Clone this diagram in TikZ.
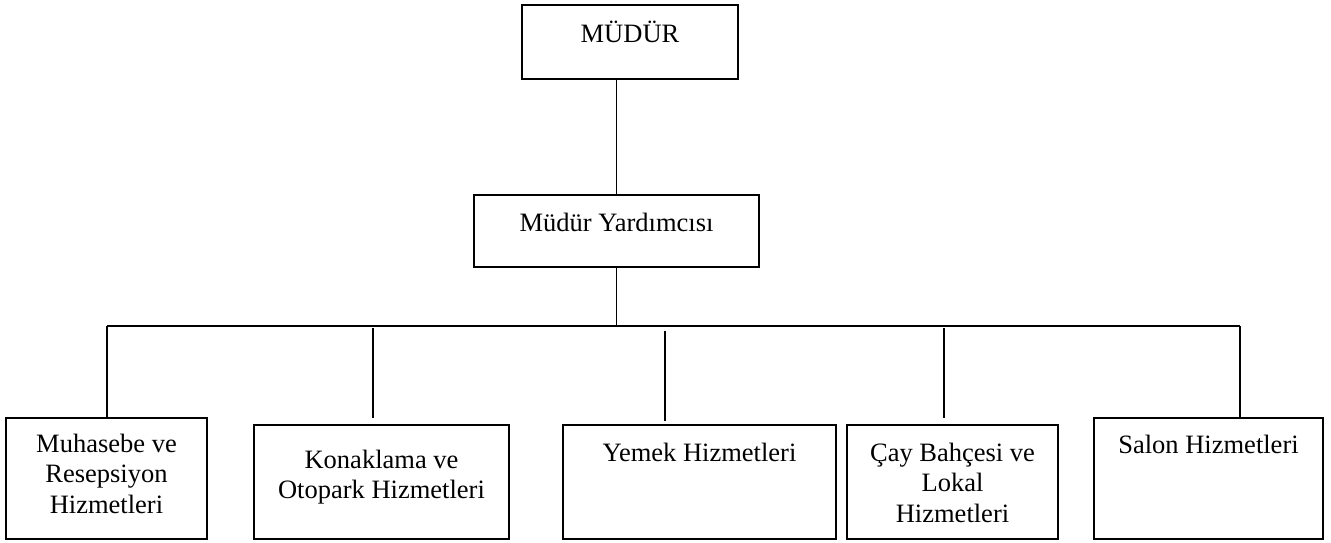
\documentclass[tikz,border=0pt]{standalone}
\usepackage{fontspec}
\setmainfont{Liberation Serif}
\usepackage{tikz}

\begin{document}
\begin{tikzpicture}[x=1pt, y=-1pt, line width=1.8pt,
    box/.style={draw, inner sep=0pt},
    lbl/.style={anchor=base, align=center, inner sep=0pt,
      font=\fontsize{26.5}{30.5}\selectfont}]
      \useasboundingbox (0,0) rectangle (1331,542);

      % boxes
      \node[box, minimum width=216pt, minimum height=74pt] (M) at (630,42) {};
      \node[box, minimum width=285pt, minimum height=72pt] (Y) at (616.5,231) {};
      \node[box, minimum width=201pt, minimum height=121pt] (B1) at (106.5,478.5) {};
      \node[box, minimum width=255pt, minimum height=114pt] (B2) at (381.5,482) {};
      \node[box, minimum width=273pt, minimum height=114pt] (B3) at (699.5,482) {};
      \node[box, minimum width=211pt, minimum height=114pt] (B4) at (952.5,482) {};
      \node[box, minimum width=229pt, minimum height=121pt] (B5) at (1208.5,478.5) {};

      % texts (base = last line)
      \node[lbl, yshift=-38pt] (tM) at (M.north) {MÜDÜR};
      \node[lbl, yshift=-37pt] (tY) at (Y.north) {Müdür Yardımcısı};
      \node[lbl, yshift=-96pt] (t1) at (B1.north) {Muhasebe ve\\Resepsiyon\\Hizmetleri};
      \node[lbl, yshift=-74.5pt] (t2) at (B2.north) {Konaklama ve\\Otopark Hizmetleri};
      \node[lbl, yshift=-37pt] (t3) at (B3.north) {Yemek Hizmetleri};
      \node[lbl, yshift=-98pt] (t4) at (B4.north) {Çay Bahçesi ve\\Lokal\\Hizmetleri};
      \node[lbl, yshift=-36pt] (t5) at (B5.north) {Salon Hizmetleri};

      % lines
      \coordinate (barL) at (107,326);
      \coordinate (barR) at (1240,326);
      \draw (Y.north) -- (Y.north |- M.south);
      \draw (Y.south) -- (Y.south |- barL);
      \draw (barL) -- (barR);
      \draw (barL) -- (barL |- B1.north);
      \draw (barR) -- (barR |- B5.north);
      \foreach \b/\dx/\ga/\gb in {B2/-8.5/2/6, B3/-34.5/5/3, B4/-8.5/2/6}
        \draw[shorten <=\ga pt, shorten >=\gb pt]
          ([xshift=\dx pt]\b.north |- barL) -- ([xshift=\dx pt]\b.north);
    \end{tikzpicture}
\end{document}
